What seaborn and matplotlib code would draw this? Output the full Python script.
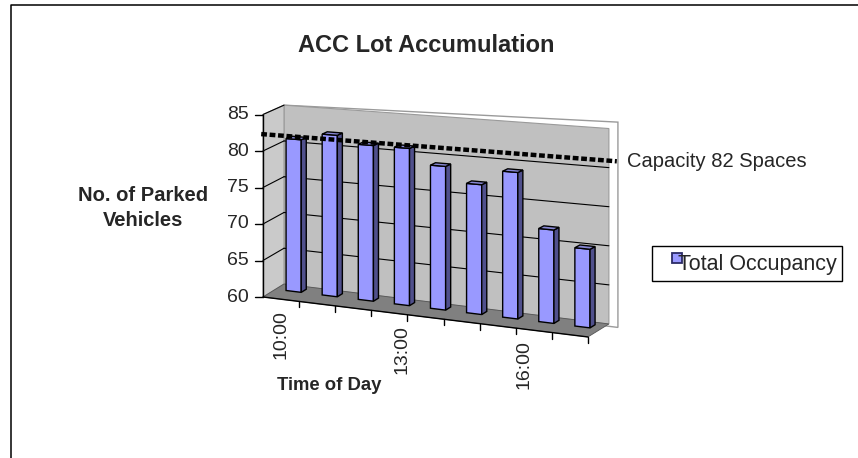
import numpy as np
import pandas as pd
import matplotlib
matplotlib.use("Agg")
import matplotlib.pyplot as plt
import seaborn as sns
from matplotlib.transforms import Transform, Affine2D
from matplotlib.patches import Polygon, Rectangle
from matplotlib.lines import Line2D

# ---------------- data ----------------
times = ["10:00", "11:00", "12:00", "13:00", "14:00", "15:00", "16:00", "17:00", "18:00"]
occupancy = [81, 82, 81, 81, 79, 77, 79, 72, 70]
y_ticks = [60, 65, 70, 75, 80, 85]
capacity = 82
capacity_label = "Capacity 82 Spaces"
series_name = "Total Occupancy"
title = "ACC Lot Accumulation"
x_title = "Time of Day"
y_title = "No. of Parked\nVehicles"

# ---------------- styling ----------------
W, H = 858, 458
sns.set_style("white")
plt.rcParams["font.family"] = ["Liberation Sans", "DejaVu Sans"]

BAR_FRONT = "#9999FF"
BAR_SIDE = "#50508C"
BAR_TOP = "#8686D2"
BACK_WALL = "#C0C0C0"
SIDE_WALL = "#CACACA"
FLOOR = "#808080"

# pseudo-3D projection (Excel-like perspective)
X0, Y0 = 263.0, 297.0     # front-left floor corner (px, y down)
CW = 36.1                 # px per category at front
VS = 7.3                  # px per value unit at front-left
DX, DY = 21.0, 13.0       # depth vector (px)
SLOPE = 0.123
GROW = 0.0103
SHRINK = 0.02
VMIN, VMAX = y_ticks[0], y_ticks[-1]
NCAT = len(times)
Z_FRONT, Z_BACK = 0.60, 0.84


def proj(c, v, z):
    c = np.asarray(c, float)
    v = np.asarray(v, float)
    z = np.asarray(z, float)
    u = c + 0.5
    xf = X0 + CW * u
    X = xf + DX * z
    Y = Y0 + SLOPE * (xf - X0) - DY * z - (v - VMIN) * VS * (1 + GROW * u) * (1 - SHRINK * z)
    return X, Y


class ProjT(Transform):
    input_dims = 2
    output_dims = 2

    def __init__(self, z):
        super().__init__()
        self.z = z

    def transform_non_affine(self, values):
        values = np.asarray(values, float).reshape(-1, 2)
        X, Y = proj(values[:, 0], values[:, 1], self.z)
        return np.column_stack([X, Y])


fig = plt.figure(figsize=(W / 100, H / 100), dpi=100)
fig.patch.set_facecolor("white")
ax = fig.add_axes([0, 0, 1, 1])
pixT = Affine2D().scale(1.0 / W, -1.0 / H).translate(0, 1) + fig.transFigure


def poly(c, v, z, **kw):
    X, Y = proj(c, v, z)
    p = Polygon(np.column_stack([X, Y]), closed=True, transform=pixT, clip_on=False, **kw)
    ax.add_patch(p)
    return p


def line(c, v, z, **kw):
    X, Y = proj(c, v, z)
    l = Line2D(X, Y, transform=pixT, clip_on=False, **kw)
    ax.add_line(l)
    return l


cL, cR = -0.5, NCAT - 0.5

# back wall outline (slab) and fill
poly([cL, cR + 0.25, cR + 0.25, cL], [VMIN - 0.3, VMIN - 0.3, VMAX + 0.9, VMAX], [1, 1, 1, 1],
     facecolor="white", edgecolor="#9A9A9A", lw=1.0, zorder=0.3)
poly([cL, cR, cR, cL], [VMIN, VMIN, VMAX, VMAX], [1, 1, 1, 1],
     facecolor=BACK_WALL, edgecolor="#9A9A9A", lw=0.8, zorder=0.4)
# side wall
poly([cL, cL, cL, cL], [VMIN, VMIN, VMAX, VMAX], [0, 1, 1, 0],
     facecolor=SIDE_WALL, edgecolor="#9A9A9A", lw=0.8, zorder=0.4)
# floor
poly([cL, cR, cR, cL], [VMIN, VMIN, VMIN, VMIN], [0, 0, 1, 1],
     facecolor=FLOOR, edgecolor="#555555", lw=0.6, zorder=0.5)

# gridlines
for v in y_ticks[1:-1]:
    line([cL, cR], [v, v], [1, 1], color="black", lw=0.8, zorder=0.6)
for v in y_ticks[1:]:
    line([cL, cL], [v, v], [0, 1], color="black", lw=0.8, zorder=0.6)

# ---------------- bars (seaborn) ----------------
n_before = len(ax.patches)
df = pd.DataFrame({"time": times, "occupancy": occupancy})
sns.barplot(data=df, x="time", y="occupancy", ax=ax, color=BAR_FRONT, saturation=1,
            width=0.42, edgecolor="black", linewidth=1.0)
bars = list(ax.patches)[n_before:]
front_T = ProjT(Z_FRONT) + pixT
for p in bars:
    top = p.get_y() + p.get_height()
    p.set_y(VMIN)
    p.set_height(top - VMIN)
    p.set_transform(front_T)
    p.set_clip_on(False)
    p.set_zorder(1)
    x0, w = p.get_x(), p.get_width()
    # side face
    poly([x0 + w] * 4, [VMIN, VMIN, top, top], [Z_FRONT, Z_BACK, Z_BACK, Z_FRONT],
         facecolor=BAR_SIDE, edgecolor="black", lw=1.0, zorder=1)
    # top face
    poly([x0, x0 + w, x0 + w, x0], [top] * 4, [Z_FRONT, Z_FRONT, Z_BACK, Z_BACK],
         facecolor=BAR_TOP, edgecolor="black", lw=1.0, zorder=1)

# ---------------- axes lines, ticks, labels ----------------
line([cL, cL], [VMIN, VMAX], [0, 0], color="black", lw=1.0, zorder=2)
line([cL, cR], [VMIN, VMIN], [0, 0], color="black", lw=1.0, zorder=2)

for v in y_ticks:
    X, Y = proj(cL, v, 0)
    ax.add_line(Line2D([X - 8, X], [Y, Y], transform=pixT, color="black", lw=1.0, clip_on=False))
    ax.text(X - 14, Y, str(v), transform=pixT, ha="right", va="center", fontsize=14)

for k in range(1, NCAT + 1):
    X, Y = proj(k - 0.5, VMIN, 0)
    ax.add_line(Line2D([X, X], [Y, Y + 6], transform=pixT, color="black", lw=1.0, clip_on=False))

for i in range(0, NCAT, 3):
    X, Y = proj(i * 1.12, VMIN, 0)
    ax.text(X, Y + 11, times[i], transform=pixT, rotation=90, ha="center", va="top", fontsize=14)

# capacity line
line([cL - 0.05, NCAT + 0.3], [capacity + 0.3, capacity + 0.3], [0, 0], color="black", lw=3.2,
     linestyle=(0, (1.3, 0.6)), zorder=3)
Xc, Yc = proj(NCAT + 0.3, capacity + 0.3, 0)
ax.text(Xc + 10, Yc, capacity_label, transform=pixT, ha="left", va="center", fontsize=14.5)

# titles
ax.text(426, 45, title, transform=pixT, ha="center", va="center", fontsize=17, fontweight="bold")
ax.text(143, 208, y_title, transform=pixT, ha="center", va="center", fontsize=14.5,
        fontweight="bold", linespacing=1.45)
ax.text(329, 385, x_title, transform=pixT, ha="center", va="center", fontsize=13.3, fontweight="bold")

# legend (Excel style: framed box, small square key overlapping text)
ax.add_patch(Rectangle((652, 246), 190, 35, transform=pixT, facecolor="white",
                       edgecolor="black", lw=1.0, clip_on=False, zorder=4))
ax.add_patch(Rectangle((672, 253), 10, 10, transform=pixT, facecolor=BAR_FRONT,
                       edgecolor="#2B2B66", lw=1.3, clip_on=False, zorder=5))
ax.text(678, 264.5, series_name, transform=pixT, ha="left", va="center", fontsize=15.5, zorder=6)

# chart-area border (top and left)
fig.add_artist(Line2D([11, 11, W + 5], [H + 5, 5, 5], transform=pixT, color="black", lw=1.1))

ax.set_axis_off()
fig.savefig("out.png", dpi=100)
